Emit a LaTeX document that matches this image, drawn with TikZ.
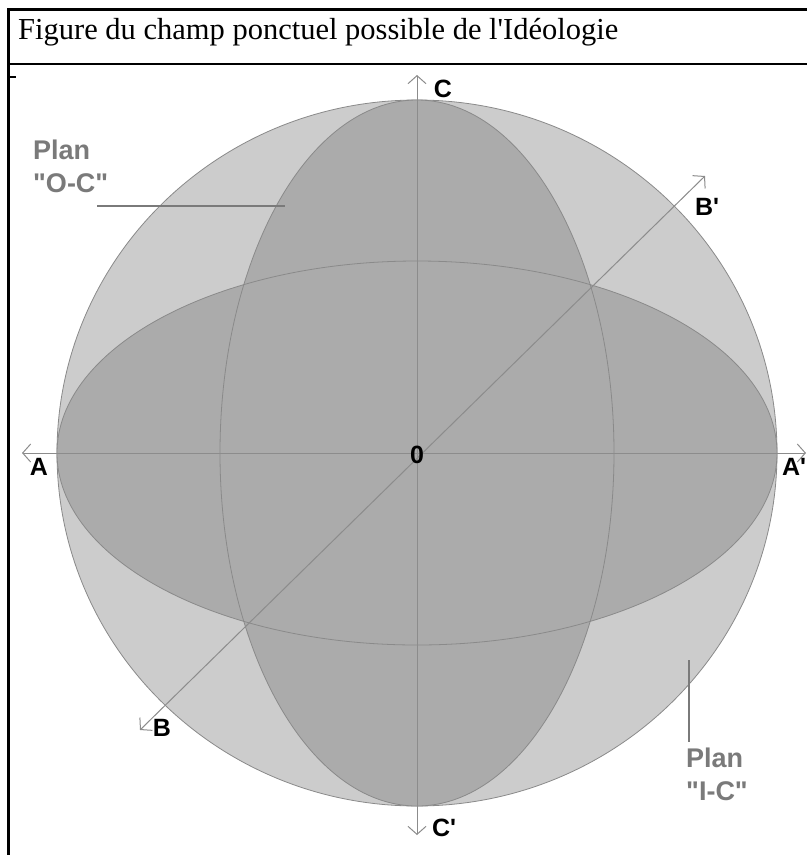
\documentclass[tikz,border=0pt]{standalone}
\usepackage{fontspec}
\setmainfont{Liberation Serif}[Ligatures=TeXOff]
\setsansfont{Liberation Sans}[Ligatures=TeXOff]
\usetikzlibrary{arrows.meta}
\definecolor{spherec}{HTML}{CCCCCC}
\definecolor{planefill}{HTML}{ABABAB}
\definecolor{planeline}{HTML}{8A8A8A}
\definecolor{axisc}{HTML}{8C8C8C}
\definecolor{planc}{HTML}{7A7A7A}
\begin{document}
\begin{tikzpicture}[x=1pt,y=-1pt,
  lbl/.style={font=\sffamily\bfseries\fontsize{25}{25}\selectfont, text=black, inner sep=0pt},
  plan/.style={font=\sffamily\bfseries\fontsize{27}{33}\selectfont, text=planc, inner sep=0pt, align=left},
  barb/.tip={Straight Barb[length=8pt,width=18pt,line width=1pt]},
  axis/.style={draw=axisc, line width=1pt, barb-barb},
  leader/.style={draw=planc, line width=2.6pt},
  frame/.style={draw=black, line width=3pt}]
\useasboundingbox (0,0) rectangle (807,855);
\fill[white] (0,0) rectangle (807,855);
% frame
\coordinate (fbl) at (8,855);
\coordinate (ftl) at (8,9);
\coordinate (ftr) at (807,9);
\coordinate (sl) at (8,64);
\coordinate (sr) at (807,64);
\coordinate (tka) at (8,77);
\coordinate (tkb) at (16,77);
\draw[frame] (fbl) -- (ftl) -- (ftr);
\draw[line width=1.2pt] (sl) -- (sr);
\draw[line width=1.2pt] (tka) -- (tkb);
\node[anchor=base west, inner sep=0pt, font=\fontsize{30.5}{34}\selectfont] (title) at (18,39) {Figure du champ ponctuel possible de l'Idéologie};
% sphere
\coordinate (O) at (417,453);
\fill[spherec] (O) ellipse [x radius=360, y radius=353];
\draw[planeline, line width=0.8pt] (O) ellipse [x radius=360, y radius=353];
\fill[planefill] (O) ellipse [x radius=360, y radius=192];
\fill[planefill] (O) ellipse [x radius=197, y radius=353];
\draw[planeline, line width=0.8pt] (O) ellipse [x radius=360, y radius=192];
\draw[planeline, line width=0.8pt] (O) ellipse [x radius=197, y radius=353];
% axes
\coordinate (Ae) at (22,453);
\coordinate (Ape) at (806,453);
\coordinate (Ce) at (417,75);
\coordinate (Cpe) at (417,835);
\coordinate (Be) at (140,730);
\coordinate (Bpe) at (705,176);
\draw[axis] (Ae) -- (Ape);
\draw[axis] (Cpe) -- (Ce);
\draw[axis] (Be) -- (Bpe);
% labels
\node[lbl] (C) at (443,89) {C};
\node[lbl] (Bp) at (707,207) {B'};
\node[lbl] (A) at (39,467) {A};
\node[lbl] (Ap) at (794,467) {A'};
\node[lbl] (zero) at (417,455) {0};
\node[lbl] (B) at (162,728) {B};
\node[lbl] (Cp) at (444,828) {C'};
% plane labels
\node[plan, anchor=north west] (planOC) at (33,140) {Plan\\"O-C"};
\coordinate (l1a) at (97,206);
\coordinate (l1b) at (285,206);
\draw[leader] (l1a) -- (l1b);
\node[plan, anchor=north west] (planIC) at (686,748) {Plan\\"I-C"};
\coordinate (l2a) at (689,660);
\coordinate (l2b) at (689,742);
\draw[leader] (l2a) -- (l2b);
\end{tikzpicture}
\end{document}
